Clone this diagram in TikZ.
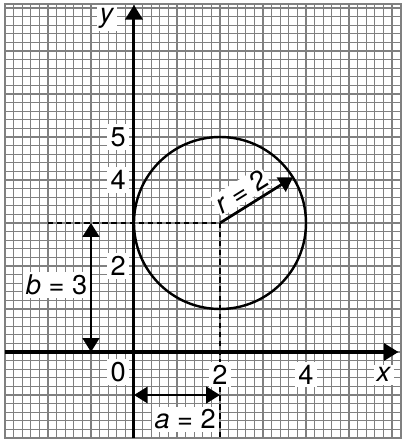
\documentclass[tikz,border=0pt]{standalone}
\usepackage{fontspec}
\setmainfont{TeX Gyre Heros}
\usetikzlibrary{arrows.meta,calc}

\tikzset{
  paper/.style={black!50},
  axisline/.style={line width=2pt, -{Triangle[length=0.34cm, width=0.4cm]}},
  dimline/.style={line width=1.8pt, {Triangle[length=0.32cm, width=0.38cm]}-{Triangle[length=0.32cm, width=0.38cm]}},
  guide/.style={line width=1.1pt, dash pattern=on 3.5pt off 2.5pt},
  lab/.style={fill=white, inner sep=2pt}
}

\begin{document}
\begin{tikzpicture}[x=1cm,y=1cm, every node/.style={font=\fontsize{18}{20}\selectfont}]
  \useasboundingbox (-3.116,-2.186) rectangle (6.302,8.186);
  % graph paper
  \draw[paper, line width=0.55pt, step=0.2] (-3,-2) grid (6.2,8.1);
  \draw[paper, line width=1.2pt, step=1] (-3,-2) grid (6.2,8.1);
  \draw[paper, line width=1.4pt] (-3,-2) rectangle (6.2,8.1);

  \coordinate (O) at (0,0);
  \coordinate (c) at (2,3);
  \coordinate (xstart) at (-3,0);
  \coordinate (xend) at (6.15,0);
  \coordinate (ystart) at (0,-2);
  \coordinate (yend) at (0,8.07);

  % guides to the centre
  \draw[guide] (-2,3) -- (c);
  \draw[guide] (c) -- (2,-2);

  % circle
  \draw[line width=1.6pt] (c) circle (2);

  % axes
  \draw[axisline] (xstart) -- (xend);
  \draw[axisline] (ystart) -- (yend);

  % a, b, r
  \draw[dimline] (-1,3) -- (-1,0);
  \draw[dimline] (0,-1) -- (2,-1);
  \draw[line width=1.8pt, -{Triangle[length=0.32cm, width=0.38cm]}] (c) -- ($(c)+(32:2)$);

  % labels
  \node[lab] (ylab) at (-0.63,7.77) {\textit{y}};
  \node[lab] (xlab) at (5.81,-0.53) {\textit{x}};
  \node[lab] (zero) at (-0.37,-0.47) {0};
  \foreach \k in {2,4}
    \node[lab] (x\k) at (\k,-0.53) {\k};
  \foreach \k in {2,4,5}
    \node[lab] (y\k) at (-0.37,\k) {\k};
  \node[lab] (blab) at (-1.8,1.56) {\textit{b} = 3};
  \node[lab] (alab) at (1.19,-1.57) {\textit{a} = 2};
  \node[lab, rotate=32, inner sep=1pt] (rlab) at ($(c)+(32:0.8)+(122:0.36)$) {\textit{r} = 2};
\end{tikzpicture}
\end{document}
